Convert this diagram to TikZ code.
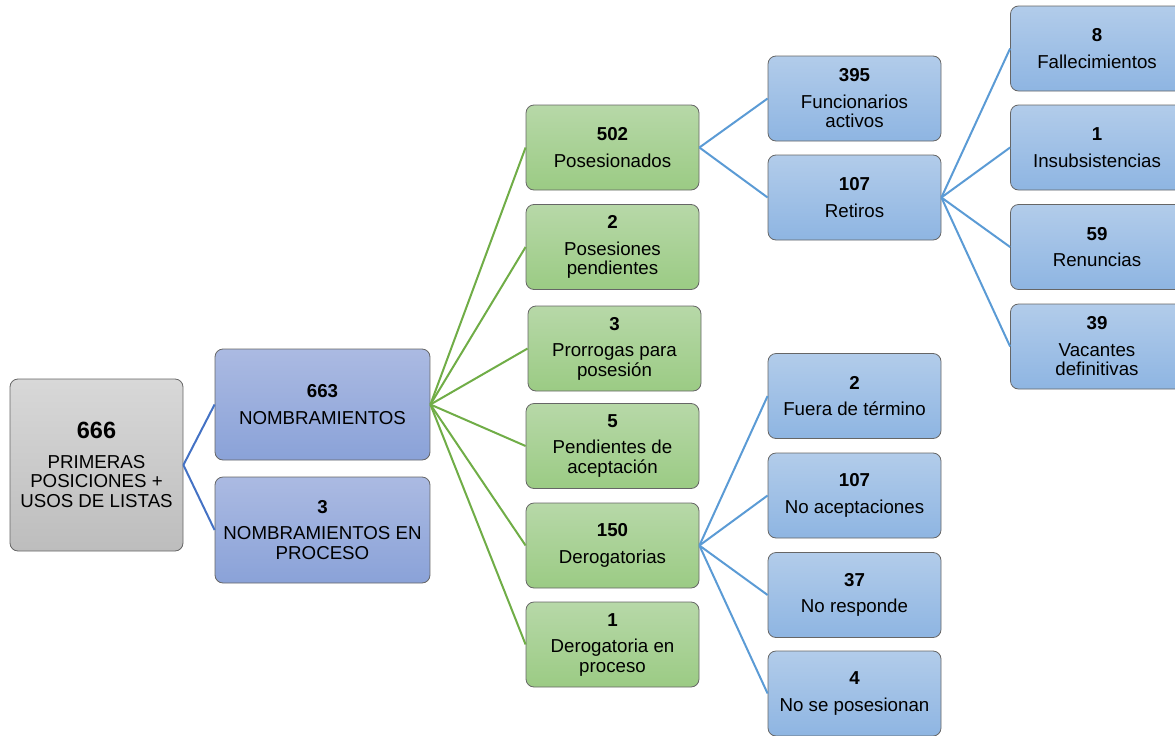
\documentclass[tikz,border=0pt]{standalone}
\usepackage{fontspec}
\setmainfont{Liberation Sans}

\definecolor{rootTop}{HTML}{D8D8D8}
\definecolor{rootBot}{HTML}{BDBDBD}
\definecolor{nomTop}{HTML}{ABBAE2}
\definecolor{nomBot}{HTML}{8AA2D8}
\definecolor{verdeTop}{HTML}{B7D8A8}
\definecolor{verdeBot}{HTML}{9BCB84}
\definecolor{azulTop}{HTML}{B2CCEA}
\definecolor{azulBot}{HTML}{8EB5E2}
\definecolor{lineaNom}{HTML}{4472C4}
\definecolor{lineaVerde}{HTML}{70AD47}
\definecolor{lineaAzul}{HTML}{5B9BD5}

\tikzset{
  caja/.style={draw=black!60, line width=0.8pt, rounded corners=8pt, align=center,
    inner sep=2pt, font=\fontsize{18.7}{19.5}\selectfont},
  raiz/.style={caja, top color=rootTop, bottom color=rootBot, minimum width=173pt, minimum height=172pt},
  nombr/.style={caja, top color=nomTop, bottom color=nomBot, minimum width=215pt},
  verde/.style={caja, top color=verdeTop, bottom color=verdeBot, minimum width=173pt, minimum height=85pt},
  azul/.style={caja, top color=azulTop, bottom color=azulBot, minimum width=173pt, minimum height=85pt},
  rama/.style={line width=2pt}
}

\begin{document}
\begin{tikzpicture}[x=1pt,y=-1pt]
    \useasboundingbox (0,0) rectangle (1175,736);

    % raiz y primer nivel
    \node[raiz] (total) at (96.5,465) {{\fontsize{23.5}{24}\selectfont\textbf{666}}\\[10pt]PRIMERAS\\POSICIONES +\\USOS DE LISTAS};
    \node[nombr, minimum height=111pt] (nombramientos) at (322.5,404.5) {\textbf{663}\\[7pt]NOMBRAMIENTOS};
    \node[nombr, minimum height=106pt] (enproceso) at (322.5,530) {\textbf{3}\\[7pt]NOMBRAMIENTOS EN\\PROCESO};

    \draw[rama, lineaNom] (total.east) -- (nombramientos.west);
    \draw[rama, lineaNom] (total.east) -- (enproceso.west);

    % segundo nivel
    \node[verde] (posesionados) at (612.5,147.5) {\textbf{502}\\[7pt]Posesionados};
    \node[verde] (pendientes) at (612.5,247) {\textbf{2}\\[7pt]Posesiones\\pendientes};
    \node[verde] (prorrogas) at (614.5,348.5) {\textbf{3}\\[7pt]Prorrogas para\\posesión};
    \node[verde] (aceptacion) at (612.5,446) {\textbf{5}\\[7pt]Pendientes de\\aceptación};
    \node[verde] (derogatorias) at (612.5,545.5) {\textbf{150}\\[7pt]Derogatorias};
    \node[verde] (derogproceso) at (612.5,644.5) {\textbf{1}\\[7pt]Derogatoria en\\proceso};

    \draw[rama, lineaVerde] (nombramientos.east) -- (posesionados.west);
    \draw[rama, lineaVerde] (nombramientos.east) -- (pendientes.west);
    \draw[rama, lineaVerde] (nombramientos.east) -- (prorrogas.west);
    \draw[rama, lineaVerde] (nombramientos.east) -- (aceptacion.west);
    \draw[rama, lineaVerde] (nombramientos.east) -- (derogatorias.west);
    \draw[rama, lineaVerde] (nombramientos.east) -- (derogproceso.west);

    % tercer nivel
    \node[azul] (activos) at (854.5,98.5) {\textbf{395}\\[7pt]Funcionarios\\activos};
    \node[azul] (retiros) at (854.5,197.5) {\textbf{107}\\[7pt]Retiros};
    \node[azul] (fuera) at (854.5,396) {\textbf{2}\\[7pt]Fuera de término};
    \node[azul] (noacepta) at (854.5,495.5) {\textbf{107}\\[7pt]No aceptaciones};
    \node[azul] (noresponde) at (854.5,595) {\textbf{37}\\[7pt]No responde};
    \node[azul] (noposesion) at (854.5,693.5) {\textbf{4}\\[7pt]No se posesionan};

    \draw[rama, lineaAzul] (posesionados.east) -- (activos.west);
    \draw[rama, lineaAzul] (posesionados.east) -- (retiros.west);
    \draw[rama, lineaAzul] (derogatorias.east) -- (fuera.west);
    \draw[rama, lineaAzul] (derogatorias.east) -- (noacepta.west);
    \draw[rama, lineaAzul] (derogatorias.east) -- (noresponde.west);
    \draw[rama, lineaAzul] (derogatorias.east) -- (noposesion.west);

    % cuarto nivel
    \node[azul] (fallec) at (1097,48.5) {\textbf{8}\\[7pt]Fallecimientos};
    \node[azul] (insub) at (1097,147.5) {\textbf{1}\\[7pt]Insubsistencias};
    \node[azul] (renuncias) at (1097,247) {\textbf{59}\\[7pt]Renuncias};
    \node[azul] (vacantes) at (1097,346.5) {\textbf{39}\\[7pt]Vacantes\\definitivas};

    \draw[rama, lineaAzul] (retiros.east) -- (fallec.west);
    \draw[rama, lineaAzul] (retiros.east) -- (insub.west);
    \draw[rama, lineaAzul] (retiros.east) -- (renuncias.west);
    \draw[rama, lineaAzul] (retiros.east) -- (vacantes.west);

\end{tikzpicture}
\end{document}
